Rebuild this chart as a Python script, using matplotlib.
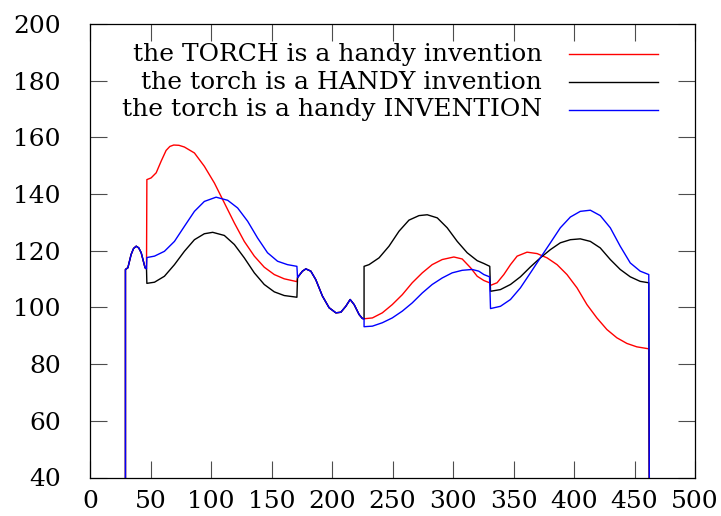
import numpy as np
import matplotlib
matplotlib.use("Agg")
import matplotlib.pyplot as plt

plt.rcParams['font.family'] = ['DejaVu Serif']

# shared stretches (identical for all three sentences)
start_x = [29.3, 29.3, 31.3, 34.0, 36.0, 38.2, 40.3, 42.3, 44.0, 45.5, 46.7]
start_y = [0.0, 113.4, 114.0, 118.7, 120.8, 121.6, 121.0, 119.3, 116.5, 114.0, 113.6]

mid_x = [171.5, 172.3, 175.6, 178.4, 182.5, 186.6, 192.1, 197.6, 203.2, 207.3,
         211.4, 215.0, 218.3, 222.4, 225.1, 226.5]
mid_y = [110.5, 111.0, 112.8, 113.6, 112.8, 109.8, 104.0, 99.9, 98.1, 98.3,
         100.4, 102.8, 101.0, 97.5, 96.1, 96.0]

end_x = [462.5]
end_y = [0.0]

# word 1: "torch"
w1_x = [47.0, 50.5, 54.7, 58.8, 62.9, 66.0, 69.2, 73.5, 78.0, 86.3, 94.5, 102.8,
        111.0, 119.3, 127.5, 135.8, 144.0, 152.3, 160.5, 171.0]
w1_red = [145.1, 145.7, 147.5, 151.6, 155.4, 156.8, 157.3, 157.2, 156.6, 154.5,
          149.8, 143.9, 136.9, 129.8, 123.3, 118.1, 114.2, 111.6, 110.1, 109.1]
w1_blk_x = [47.0, 53.3, 61.5, 69.8, 78.0, 86.3, 94.5, 101.4, 111.0, 119.3,
            127.5, 135.8, 144.0, 152.3, 160.5, 171.0]
w1_blk = [108.5, 108.9, 111.0, 115.1, 119.8, 123.9, 126.0, 126.5, 125.4, 122.2,
          117.5, 112.2, 108.1, 105.5, 104.2, 103.6]
w1_blu_x = [47.0, 53.3, 61.5, 69.8, 78.0, 86.3, 94.5, 104.2, 113.8, 122.0,
            130.3, 138.5, 146.7, 155.0, 163.2, 171.0]
w1_blu = [117.6, 118.1, 119.8, 123.3, 128.6, 133.9, 137.4, 138.9, 137.8, 135.1,
          130.4, 124.5, 119.3, 116.3, 115.1, 114.5]

# word 2: "handy"
w2_x = [226.5, 233.4, 241.6, 249.8, 258.1, 266.3, 274.6, 282.8, 291.1, 300.7,
        307.6, 314.5, 320.0, 325.5, 330.2]
w2_red = [96.0, 96.3, 98.1, 101.0, 104.5, 108.7, 112.2, 115.1, 116.9, 117.8,
          117.1, 114.0, 111.0, 109.5, 108.7]
w2_blk_x = [226.5, 230.6, 238.9, 247.1, 255.4, 263.6, 271.9, 278.7, 287.0,
            295.2, 303.5, 311.7, 320.0, 325.5, 330.4]
w2_blk = [114.5, 115.1, 117.5, 121.6, 126.9, 130.8, 132.4, 132.7, 131.6,
          128.1, 123.3, 119.3, 116.5, 115.5, 114.5]
w2_blu_x = [226.5, 233.4, 241.6, 249.8, 258.1, 266.3, 274.6, 282.8, 291.1,
            299.3, 307.6, 315.8, 321.3, 325.5, 330.2]
w2_blu = [93.2, 93.4, 94.6, 96.3, 98.7, 101.6, 105.1, 108.1, 110.4, 112.2,
          113.1, 113.4, 112.8, 111.6, 110.8]

# word 3: "invention"
w3_red_x = [331.0, 336.4, 342.0, 347.5, 353.0, 361.2, 369.5, 377.7, 386.0,
            394.2, 402.5, 410.7, 418.9, 427.2, 435.4, 443.7, 451.9, 461.8]
w3_red = [107.8, 108.7, 111.6, 115.1, 118.1, 119.5, 119.0, 117.5, 115.1, 111.6,
          106.9, 101.0, 96.3, 92.2, 89.3, 87.3, 86.1, 85.4]
w3_x = [331.0, 339.2, 347.5, 355.7, 364.0, 372.2, 380.5, 388.7, 397.0, 405.2,
        413.5, 421.7, 430.0, 438.2, 446.5, 454.7, 461.8]
w3_blk = [105.7, 106.3, 108.1, 110.8, 114.3, 117.5, 120.4, 122.8, 123.9, 124.2,
          123.3, 121.0, 116.9, 113.4, 110.8, 109.2, 108.7]
w3_blu = [99.6, 100.4, 102.8, 106.9, 112.2, 117.5, 122.8, 128.1, 131.9, 133.9,
          134.3, 132.4, 128.1, 121.6, 115.7, 112.8, 111.6]

labels = ["the TORCH is a handy invention",
          "the torch is a HANDY invention",
          "the torch is a handy INVENTION"]
colors = ["#ff0000", "#000000", "#0000ff"]

series = [
    (w1_x, w1_red, w2_x, w2_red, w3_red_x, w3_red),
    (w1_blk_x, w1_blk, w2_blk_x, w2_blk, w3_x, w3_blk),
    (w1_blu_x, w1_blu, w2_blu_x, w2_blu, w3_x, w3_blu),
]


def join(parts):
    xs, ys = [], []
    for px, py in parts:
        xs += list(px)
        ys += list(py)
    return np.array(xs), np.array(ys)


fig = plt.figure(figsize=(7.21, 5.16), dpi=100)
ax = fig.add_axes([90 / 721, 1 - 477.5 / 516, 605 / 721, 453.5 / 516])

for (ax1, ay1, ax2, ay2, ax3, ay3), c in zip(series, colors):
    x, y = join([(start_x, start_y), (ax1, ay1), (mid_x, mid_y),
                 (ax2, ay2), (ax3, ay3), (end_x, end_y)])
    ax.plot(x, y, color=c, lw=1.0)

# key, text right-aligned with the sample line after it
key_y = [0.933, 0.872, 0.811]
for lab, c, ky in zip(labels, colors, key_y):
    ax.text(0.7474, ky, lab, transform=ax.transAxes, ha='right', va='center',
            fontsize=18)
    ax.plot([0.792, 0.939], [ky, ky], transform=ax.transAxes, color=c, lw=1.0)

ax.set_xlim(0, 500)
ax.set_ylim(40, 200)
ax.set_xticks(np.arange(0, 501, 50))
ax.set_yticks(np.arange(40, 201, 20))
ax.tick_params(direction='in', length=12, width=0.8, color='0.3',
               top=True, right=True, labelsize=18)
ax.tick_params(axis='y', pad=21)
ax.tick_params(axis='x', pad=9)
for sp in ax.spines.values():
    sp.set_linewidth(0.9)

fig.savefig("out.png", dpi=100)
